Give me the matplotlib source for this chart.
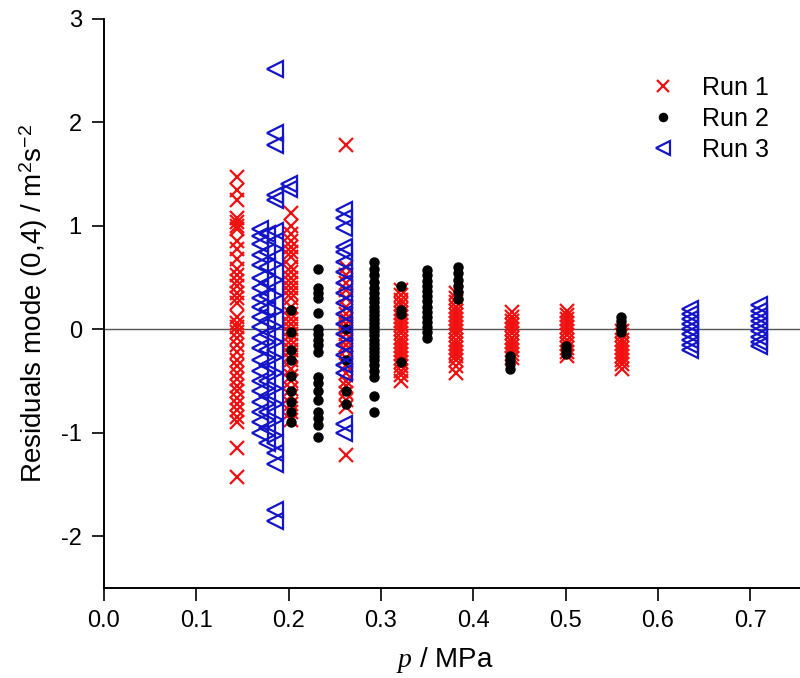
import matplotlib
matplotlib.use("Agg")
import matplotlib.pyplot as plt
import numpy as np

plt.rcParams["font.family"] = ["Liberation Sans", "DejaVu Sans"]
plt.rcParams["mathtext.fontset"] = "custom"
plt.rcParams["mathtext.rm"] = "Liberation Sans"
plt.rcParams["mathtext.it"] = "Liberation Serif:italic"
plt.rcParams["axes.unicode_minus"] = False

# residuals per pressure (MPa), one list per column of points
run1_p = [0.144, 0.203, 0.262, 0.322, 0.381, 0.442, 0.502, 0.561]
run1_y = [
    [1.47, 1.35, 1.25, 1.08, 1.04, 1.0, 0.97, 0.85, 0.78, 0.68, 0.58, 0.52, 0.47,
     0.42, 0.35, 0.3, 0.25, 0.12, 0.06, 0.02, -0.03, -0.08, -0.15, -0.22, -0.3,
     -0.36, -0.42, -0.48, -0.55, -0.6, -0.66, -0.72, -0.78, -0.85, -0.9, -1.15, -1.43],
    [1.12, 1.0, 0.92, 0.85, 0.8, 0.75, 0.7, 0.6, 0.55, 0.5, 0.45, 0.4, 0.35, 0.3,
     0.22, 0.15, 0.1, 0.05, 0.0, -0.05, -0.1, -0.15, -0.2, -0.25, -0.3, -0.38,
     -0.45, -0.5, -0.58, -0.65, -0.72, -0.8, -0.88],
    [1.78, 0.6, 0.52, 0.45, 0.38, 0.3, 0.22, 0.15, 0.1, 0.05, 0.0, -0.05, -0.1,
     -0.15, -0.2, -0.28, -0.35, -0.42, -0.5, -0.55, -0.62, -0.68, -0.75, -1.22],
    [0.38, 0.33, 0.28, 0.24, 0.2, 0.16, 0.12, 0.08, 0.04, 0.0, -0.04, -0.08,
     -0.12, -0.16, -0.2, -0.24, -0.28, -0.32, -0.36, -0.4, -0.44, -0.5],
    [0.35, 0.3, 0.26, 0.22, 0.18, 0.14, 0.1, 0.06, 0.02, -0.02, -0.06, -0.1,
     -0.14, -0.18, -0.22, -0.26, -0.3, -0.36, -0.42],
    [0.17, 0.12, 0.08, 0.04, 0.0, -0.04, -0.08, -0.12, -0.16, -0.2, -0.24, -0.28],
    [0.18, 0.14, 0.1, 0.06, 0.02, -0.02, -0.06, -0.1, -0.14, -0.18, -0.22, -0.26],
    [-0.02, -0.06, -0.1, -0.14, -0.18, -0.22, -0.26, -0.3, -0.34, -0.38],
]

run2_p = [0.203, 0.232, 0.262, 0.292, 0.322, 0.35, 0.383, 0.44, 0.50, 0.56]
run2_y = [
    [0.19, -0.03, -0.2, -0.3, -0.45, -0.6, -0.7, -0.8, -0.9],
    [0.58, 0.4, 0.35, 0.3, 0.16, 0.0, -0.05, -0.1, -0.15, -0.22, -0.46, -0.52,
     -0.6, -0.68, -0.8, -0.86, -0.93, -1.04],
    [0.0, -0.3, -0.6, -0.72],
    [0.65, 0.58, 0.52, 0.46, 0.4, 0.35, 0.3, 0.26, 0.22, 0.18, 0.14, 0.1, 0.06,
     0.02, -0.02, -0.06, -0.1, -0.14, -0.18, -0.22, -0.26, -0.3, -0.35, -0.4,
     -0.46, -0.65, -0.8],
    [0.42, 0.19, 0.15, -0.32],
    [0.57, 0.52, 0.47, 0.42, 0.37, 0.32, 0.27, 0.22, 0.17, 0.12, 0.07, 0.02,
     -0.03, -0.08],
    [0.6, 0.54, 0.48, 0.42, 0.36, 0.29],
    [-0.26, -0.3, -0.34, -0.38],
    [-0.16, -0.2, -0.24],
    [0.12, 0.08, 0.04, 0.0, -0.03],
]

run3_p = [0.169, 0.177, 0.185, 0.2, 0.26, 0.635, 0.71]
run3_y = [
    [0.97, 0.9, 0.82, 0.72, 0.62, 0.5, 0.4, 0.3, 0.22, 0.12, 0.02, -0.08, -0.18,
     -0.3, -0.4, -0.5, -0.6, -0.7, -0.8, -0.9, -1.0],
    [0.92, 0.75, 0.6, 0.45, 0.32, 0.2, 0.08, -0.05, -0.2, -0.35, -0.5, -0.65,
     -0.8, -0.95, -1.1],
    [2.52, 1.9, 1.78, 1.3, 1.25, 0.95, 0.85, 0.7, 0.55, 0.4, 0.25, 0.1, -0.05,
     -0.2, -0.35, -0.5, -0.65, -0.8, -0.95, -1.1, -1.2, -1.3, -1.75, -1.85],
    [1.4, 1.36],
    [1.15, 1.08, 0.98, 0.8, 0.75, 0.65, 0.55, 0.45, 0.35, 0.25, 0.15, 0.05,
     -0.05, -0.15, -0.25, -0.35, -0.42, -0.92, -1.0],
    [0.2, 0.15, 0.1, 0.05, 0.0, -0.05, -0.1, -0.15, -0.2],
    [0.23, 0.18, 0.13, 0.08, 0.03, -0.02, -0.07, -0.12, -0.16],
]

x_ticks = [0.0, 0.1, 0.2, 0.3, 0.4, 0.5, 0.6, 0.7]
y_ticks = [-2, -1, 0, 1, 2, 3]


def flatten(ps, ys):
    xs = np.concatenate([np.full(len(v), p) for p, v in zip(ps, ys)])
    return xs, np.concatenate([np.asarray(v, float) for v in ys])


fig = plt.figure(figsize=(8, 6.78), dpi=100)
ax = fig.add_axes([0.13, 0.133, 0.87, 0.839])

ax.axhline(0, color="#555555", lw=1.0, zorder=1)

x1, y1 = flatten(run1_p, run1_y)
x2, y2 = flatten(run2_p, run2_y)
x3, y3 = flatten(run3_p, run3_y)

ax.plot(x1, y1, ls="none", marker="x", ms=10, mew=1.6, color="#f01010",
        label="Run 1", zorder=2)
ax.plot(x2, y2, ls="none", marker="o", ms=6.5, color="black",
        label="Run 2", zorder=3)
ax.plot(x3, y3, ls="none", marker="<", ms=11, mew=1.6, mfc="none",
        color="#1414c8", label="Run 3", zorder=4)

ax.set_xlim(0, 0.754)
ax.set_ylim(-2.5, 3)
ax.set_xticks(x_ticks)
ax.set_xticklabels([f"{t:.1f}" for t in x_ticks])
ax.set_yticks(y_ticks)
ax.tick_params(direction="out", length=9, width=1.2, labelsize=17, pad=7)
for s in ("top", "right"):
    ax.spines[s].set_visible(False)
for s in ("left", "bottom"):
    ax.spines[s].set_linewidth(1.4)

ax.set_xlabel(r"$p$ / MPa", fontsize=20, labelpad=12)
ax.xaxis.set_label_coords(0.49, -0.1)
ax.set_ylabel(r"Residuals mode (0,4) / m$^2$s$^{-2}$", fontsize=20, labelpad=8)

leg = ax.legend(loc="upper left", bbox_to_anchor=(0.767, 0.90), frameon=False,
                fontsize=18, handlelength=2.0, handletextpad=0.55,
                labelspacing=0.28, borderpad=0, borderaxespad=0, markerscale=0.9)

fig.savefig("out.png", dpi=100)
